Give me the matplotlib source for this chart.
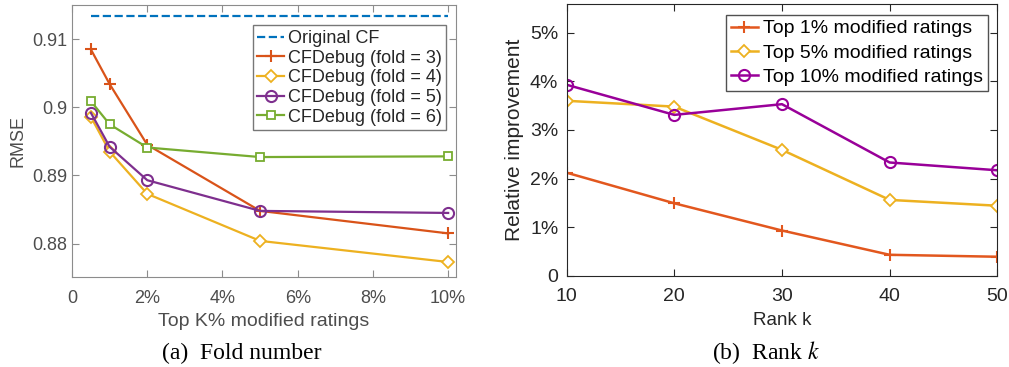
import matplotlib
matplotlib.use('Agg')
import matplotlib.pyplot as plt
from matplotlib.ticker import FuncFormatter

# (a) Fold number
topk = [0.5, 1, 2, 5, 10]
orig_cf = 0.9134
fold3 = [0.9085, 0.9034, 0.8945, 0.8848, 0.8815]
fold4 = [0.8986, 0.8935, 0.8873, 0.8804, 0.8773]
fold5 = [0.8992, 0.8942, 0.8893, 0.8848, 0.8845]
fold6 = [0.9009, 0.8975, 0.8941, 0.8927, 0.8928]
folds = [(fold3, 'CFDebug (fold = 3)', '+'),
         (fold4, 'CFDebug (fold = 4)', 'D'),
         (fold5, 'CFDebug (fold = 5)', 'o'),
         (fold6, 'CFDebug (fold = 6)', 's')]
left_colors = ['#D95319', '#EDB120', '#7E2F8E', '#77AC30']

# (b) Rank k
ranks = [10, 20, 30, 40, 50]
top1 = [2.12, 1.49, 0.93, 0.43, 0.39]
top5 = [3.60, 3.48, 2.59, 1.56, 1.44]
top10 = [3.93, 3.31, 3.53, 2.33, 2.17]
series_b = [(top1, 'Top 1% modified ratings', '+'),
            (top5, 'Top 5% modified ratings', 'D'),
            (top10, 'Top 10% modified ratings', 'o')]
right_colors = ['#E2571E', '#EDB120', '#990099']

plt.rcParams['font.family'] = ['Liberation Sans', 'DejaVu Sans']
plt.rcParams['mathtext.fontset'] = 'stix'

fig = plt.figure(figsize=(10.09, 3.67), dpi=100)
ax1 = fig.add_axes([0.0714, 0.2452, 0.3806, 0.741])
ax2 = fig.add_axes([0.5616, 0.2488, 0.4268, 0.740])

def mk(m, c):
    if m == '+':
        return dict(marker='+', markersize=8, markeredgewidth=1.5, color=c)
    if m == 'D':
        return dict(marker='D', markersize=6, markerfacecolor='white',
                    markeredgewidth=1.3, color=c)
    if m == 's':
        return dict(marker='s', markersize=6, markerfacecolor='white',
                    markeredgewidth=1.3, color=c)
    return dict(marker='o', markersize=8, markerfacecolor='none',
                markeredgewidth=1.5, color=c)

# left panel
gray = '#4d4d4d'
ax1.plot([topk[0], topk[-1]], [orig_cf, orig_cf], '--', color='#0072BD',
         lw=1.6, label='Original CF')
for (vals, lab, m), c in zip(folds, left_colors):
    ax1.plot(topk, vals, lw=1.6, label=lab, **mk(m, c))
ax1.set_xlim(0, 10.21)
ax1.set_ylim(0.8751, 0.915)
ax1.set_xticks([0, 2, 4, 6, 8, 10])
ax1.xaxis.set_major_formatter(FuncFormatter(lambda v, p: '0' if v == 0 else '%d%%' % v))
ax1.set_yticks([0.88, 0.89, 0.9, 0.91])
ax1.set_yticklabels(['0.88', '0.89', '0.9', '0.91'])
ax1.set_xlabel('Top K% modified ratings', fontsize=14, color=gray, labelpad=5)
ax1.set_ylabel('RMSE', fontsize=13, color=gray, labelpad=4)
for s in ax1.spines.values():
    s.set_color('#8c8c8c')
ax1.tick_params(direction='in', top=True, right=True, labelsize=13,
                colors='#8c8c8c', labelcolor=gray, length=5)
ax1.tick_params(axis='x', pad=9)
leg = ax1.legend(loc='upper right', bbox_to_anchor=(0.975, 0.925), fontsize=13,
                 frameon=True, fancybox=False, edgecolor='#555555',
                 handlelength=1.5, handletextpad=0.2, borderpad=0.25,
                 labelspacing=0.15, borderaxespad=0)
for t in leg.get_texts():
    t.set_color('#262626')
fig.text(0.24, 0.022, '(a)  Fold number', ha='center', fontsize=17,
         family=['Liberation Serif', 'DejaVu Serif'])

# right panel
for (vals, lab, m), c in zip(series_b, right_colors):
    ax2.plot(ranks, vals, lw=1.8, label=lab, **mk(m, c))
ax2.set_xlim(10, 50)
ax2.set_ylim(0, 5.59)
ax2.set_xticks(ranks)
ax2.set_yticks([0, 1, 2, 3, 4, 5])
ax2.yaxis.set_major_formatter(FuncFormatter(lambda v, p: '0' if v == 0 else '%d%%' % v))
ax2.set_xlabel('Rank k', fontsize=13.5, color='#262626', labelpad=5)
ax2.set_ylabel('Relative improvement', fontsize=15, color='#262626', labelpad=4)
for s in ax2.spines.values():
    s.set_color('#262626')
ax2.tick_params(direction='in', top=True, right=True, labelsize=14,
                colors='#262626', length=5)
ax2.tick_params(axis='x', pad=9)
ax2.tick_params(axis='y', pad=6)
leg2 = ax2.legend(loc='upper right', bbox_to_anchor=(0.978, 0.96), fontsize=14,
                  frameon=True, fancybox=False, edgecolor='#262626',
                  handlelength=1.4, handletextpad=0.25, borderpad=0.25,
                  labelspacing=0.35, borderaxespad=0)
fig.text(0.759, 0.022, '(b)  Rank $k$', ha='center', fontsize=17,
         family=['Liberation Serif', 'DejaVu Serif'])

fig.savefig('out.png', dpi=100)
